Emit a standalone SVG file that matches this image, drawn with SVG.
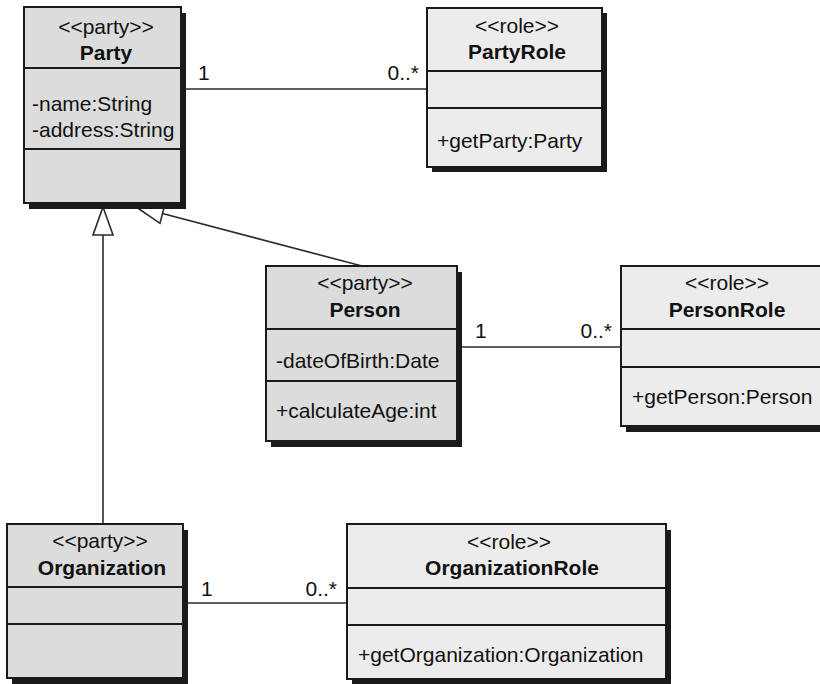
<svg xmlns="http://www.w3.org/2000/svg" width="820" height="684" viewBox="0 0 820 684">
<style>
text{font-family:"Liberation Sans",Arial,Helvetica,sans-serif;font-size:21px;fill:#111}
.c{text-anchor:middle}
.b{font-weight:bold}
.e{text-anchor:end}
.sh{fill:#1a1a1a}
.pt{fill:#dcdcdc;stroke:#1a1a1a;stroke-width:2}
.rl{fill:#ececec;stroke:#1a1a1a;stroke-width:2}
.sep{stroke:#1a1a1a;stroke-width:2}
.ln{stroke:#2a2a2a;stroke-width:1.6;fill:none}
.tri{fill:#fff;stroke:#2a2a2a;stroke-width:1.6}
</style>
<rect width="820" height="684" fill="#fff"/>
<g id="connectors">
  <line class="ln" x1="181" y1="89" x2="427" y2="89"/>
  <text x="198" y="80">1</text>
  <text class="e" x="419" y="80">0..*</text>
  <line class="ln" x1="457" y1="347" x2="621" y2="347"/>
  <text x="475" y="338">1</text>
  <text class="e" x="612" y="338">0..*</text>
  <line class="ln" x1="183" y1="603" x2="347" y2="603"/>
  <text x="201" y="596">1</text>
  <text class="e" x="337" y="596">0..*</text>
  <line class="ln" x1="103" y1="524" x2="103" y2="235"/>
  <polygon class="tri" points="103,207 113,235 93,235"/>
  <line class="ln" x1="362" y1="266" x2="162.5" y2="213.6"/>
  <polygon class="tri" points="135.4,206.5 160,223.3 165,203.9"/>
</g>
<g id="party">
  <rect class="sh" x="29" y="13" width="157" height="196"/>
  <rect class="pt" x="24" y="7" width="157" height="196"/>
  <line class="sep" x1="24" y1="68" x2="181" y2="68"/>
  <line class="sep" x1="24" y1="149" x2="181" y2="149"/>
  <text class="c" x="106" y="34">&lt;&lt;party&gt;&gt;</text>
  <text class="c b" x="106" y="60">Party</text>
  <text x="32" y="111">-name:String</text>
  <text x="32" y="137">-address:String</text>
</g>
<g id="partyRole">
  <rect class="sh" x="432" y="13" width="175" height="159"/>
  <rect class="rl" x="427" y="8" width="175" height="159"/>
  <line class="sep" x1="427" y1="71" x2="602" y2="71"/>
  <line class="sep" x1="427" y1="108" x2="602" y2="108"/>
  <text class="c" x="517" y="33">&lt;&lt;role&gt;&gt;</text>
  <text class="c b" x="517" y="59">PartyRole</text>
  <text x="437" y="148">+getParty:Party</text>
</g>
<g id="person">
  <rect class="sh" x="271" y="272" width="191" height="175"/>
  <rect class="pt" x="266" y="266" width="191" height="175"/>
  <line class="sep" x1="266" y1="329" x2="457" y2="329"/>
  <line class="sep" x1="266" y1="381" x2="457" y2="381"/>
  <text class="c" x="365" y="290">&lt;&lt;party&gt;&gt;</text>
  <text class="c b" x="365" y="317">Person</text>
  <text x="276" y="368">-dateOfBirth:Date</text>
  <text x="276" y="418">+calculateAge:int</text>
</g>
<g id="personRole">
  <rect class="sh" x="626" y="272" width="212" height="160"/>
  <rect class="rl" x="621" y="266" width="212" height="160"/>
  <line class="sep" x1="621" y1="329" x2="833" y2="329"/>
  <line class="sep" x1="621" y1="367" x2="833" y2="367"/>
  <text class="c" x="727" y="290">&lt;&lt;role&gt;&gt;</text>
  <text class="c b" x="727" y="317">PersonRole</text>
  <text x="632" y="404">+getPerson:Person</text>
</g>
<g id="organization">
  <rect class="sh" x="12" y="530" width="176" height="154"/>
  <rect class="pt" x="7" y="524" width="176" height="154"/>
  <line class="sep" x1="7" y1="587" x2="183" y2="587"/>
  <line class="sep" x1="7" y1="624" x2="183" y2="624"/>
  <text class="c" x="100" y="548">&lt;&lt;party&gt;&gt;</text>
  <text class="c b" x="102" y="575">Organization</text>
</g>
<g id="organizationRole">
  <rect class="sh" x="352" y="530" width="319" height="155"/>
  <rect class="rl" x="347" y="524" width="319" height="155"/>
  <line class="sep" x1="347" y1="588" x2="666" y2="588"/>
  <line class="sep" x1="347" y1="625" x2="666" y2="625"/>
  <text class="c" x="509" y="549">&lt;&lt;role&gt;&gt;</text>
  <text class="c b" x="512" y="575">OrganizationRole</text>
  <text x="358" y="662">+getOrganization:Organization</text>
</g>
</svg>
